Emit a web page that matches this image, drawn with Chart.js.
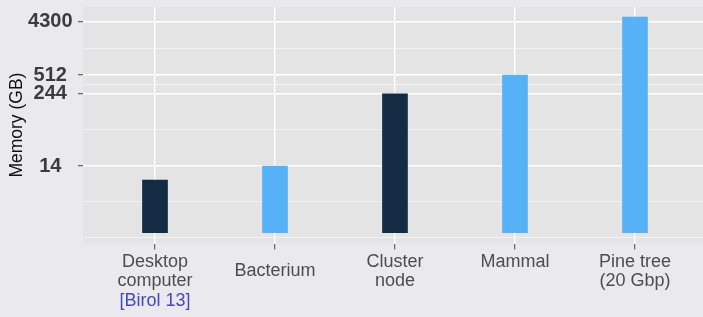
<!DOCTYPE html>
<html>
<head>
<meta charset="utf-8">
<script src="https://cdn.jsdelivr.net/npm/chart.js@4.4.1/dist/chart.umd.min.js"></script>
<style>
  html, body { margin: 0; padding: 0; background: #EAE9EE; }
  #wrap { width: 703px; height: 317px; }
</style>
</head>
<body>
<div id="wrap"><canvas id="memChart"></canvas></div>
<script>
// data
const categories = [['Desktop', 'computer'], 'Bacterium', ['Cluster', 'node'], ['Mammal', ''], ['Pine tree', '(20 Gbp)']];
const memoryGB = [8, 14, 244, 512, 5100];
const isMachine = [true, false, true, false, false];
const citations = ['[Birol 13]', '', '', '', ''];
const yTicks = [14, 244, 512, 4300];
const yMinorTicks = [0.81, 3.37, 58.3, 353, 1483];

const FONT = "'Liberation Sans', Arial, Helvetica, sans-serif";
const DARK = '#132B43';
const LIGHT = '#56B1F7';

const isMajor = v => yTicks.includes(v);

// grey page + grey panel, ggplot look
const bgPlugin = {
   id: 'ggBackground',
   beforeDraw(chart) {
      const { ctx, chartArea: a } = chart;
      ctx.save();
      ctx.fillStyle = '#EAE9EE';
      ctx.fillRect(0, 0, chart.width, chart.height);
      ctx.fillStyle = '#E4E4E4';
      ctx.fillRect(a.left, a.top, a.right - a.left, a.bottom - a.top);
      ctx.restore();
   }
};

// blue reference text under a category label
const citePlugin = {
   id: 'citations',
   afterDraw(chart) {
      const { ctx } = chart;
      const x = chart.scales.x;
      ctx.save();
      ctx.font = '18px ' + FONT;
      ctx.fillStyle = '#4747C2';
      ctx.textAlign = 'center';
      ctx.textBaseline = 'middle';
      citations.forEach((t, i) => {
         if (t) ctx.fillText(t, x.getPixelForValue(i), x.top + 58);
      });
      ctx.restore();
   }
};

const memChart = new Chart(document.getElementById('memChart'), {
   type: 'bar',
   data: {
      datasets: [{
         data: memoryGB.map((v, i) => ({ x: i, y: v })),
         backgroundColor: isMachine.map(m => m ? DARK : LIGHT),
         base: 1,
         barThickness: 25,
         borderWidth: 0
      }]
   },
   options: {
      responsive: true,
      maintainAspectRatio: false,
      animation: false,
      layout: { padding: { top: 6.7, left: 0, right: 0, bottom: 0 } },
      plugins: {
         legend: { display: false },
         tooltip: { enabled: false }
      },
      scales: {
         x: {
            type: 'linear',
            min: -0.6,
            max: 4.567,
            bounds: 'data',
            offset: false,
            afterBuildTicks: s => { s.ticks = categories.map((c, i) => ({ value: i })); },
            grid: { offset: false, color: '#FFFFFF', lineWidth: 1.4, tickColor: '#555555', tickWidth: 1.1, tickLength: 6 },
            border: { display: false },
            ticks: {
               autoSkip: false,
               maxRotation: 0,
               crossAlign: 'center',
               padding: 12.3,
               color: '#4D4D4D',
               font: { family: FONT, size: 18, lineHeight: 1.08 },
               callback: v => categories[v]
            },
            afterFit: s => { s.height = 73.5; s.paddingLeft = 0; s.paddingRight = 0; }
         },
         y: {
            type: 'logarithmic',
            min: 0.651,
            max: 7674,
            bounds: 'data',
            afterBuildTicks: s => {
               s.ticks = [...yMinorTicks, ...yTicks].sort((a, b) => a - b).map(v => ({ value: v }));
            },
            grid: {
               color: c => isMajor(c.tick.value) ? '#FFFFFF' : 'rgba(255,255,255,0.75)',
               lineWidth: c => isMajor(c.tick.value) ? 1.4 : 0.7,
               tickColor: c => isMajor(c.tick.value) ? '#555555' : 'rgba(0,0,0,0)',
               tickWidth: 1.1,
               tickLength: 5
            },
            border: { display: false },
            ticks: {
               autoSkip: false,
               crossAlign: 'center',
               padding: 5.5,
               color: '#3C3C3C',
               font: { family: FONT, size: 20, weight: 'bold' },
               callback: v => isMajor(v) ? String(v) : ''
            },
            title: {
               display: true,
               text: 'Memory (GB)',
               color: '#111111',
               font: { family: FONT, size: 17.5 },
               padding: { top: 6.5, bottom: 0 }
            },
            afterFit: s => { s.width = 83; s.paddingTop = 0; s.paddingBottom = 0; }
         }
      }
   },
   plugins: [bgPlugin, citePlugin]
});
</script>
</body>
</html>
